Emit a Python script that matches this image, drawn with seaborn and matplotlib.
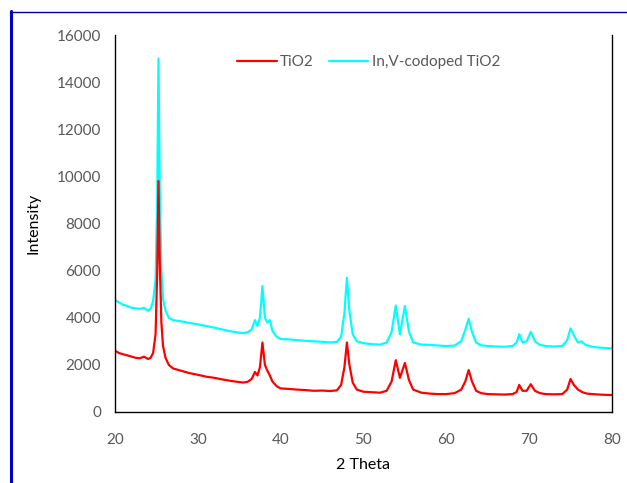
import pandas as pd
import seaborn as sns
import matplotlib.pyplot as plt
from matplotlib.lines import Line2D

# --- data ---
two_theta_tio2 = [20, 20.5, 21, 21.5, 22, 22.5, 23, 23.5, 24, 24.3, 24.6, 24.9, 25.1, 25.25, 25.4, 25.6,
                  25.8, 26.1, 26.5, 27, 27.5, 28, 29, 30, 31, 32, 33, 34, 35, 35.5, 36, 36.5, 36.9,
                  37.2, 37.5, 37.8, 38.1, 38.4, 38.7, 39, 39.5, 40, 41, 42, 43, 44, 45, 46, 46.8,
                  47.3, 47.7, 48.0, 48.3, 48.7, 49.2, 50, 51, 52, 52.8, 53.4, 53.9, 54.4, 55.0,
                  55.5, 56, 57, 58, 59, 60, 61, 61.8, 62.3, 62.7, 63.1, 63.6, 64.2, 65, 66, 67, 68,
                  68.5, 68.8, 69.2, 69.7, 70.2, 70.7, 71.3, 72, 73, 74, 74.6, 75.0, 75.4, 75.9,
                  76.5, 77, 78, 79, 80]
intensity_tio2 = [2600, 2500, 2450, 2400, 2350, 2300, 2280, 2350, 2250, 2300, 2500, 3300, 6000, 9800, 6400, 3800,
                  2800, 2300, 2000, 1850, 1800, 1750, 1650, 1580, 1500, 1450, 1380, 1320, 1270, 1250, 1280, 1400, 1700,
                  1550, 1900, 2950, 2000, 1750, 1550, 1300, 1100, 1000, 980, 950, 930, 900, 910, 890, 920,
                  1150, 1900, 2950, 2000, 1250, 950, 860, 840, 820, 900, 1300, 2200, 1450, 2080,
                  1350, 950, 820, 780, 760, 760, 800, 950, 1300, 1780, 1300, 900, 800, 760, 750, 740, 760,
                  850, 1150, 900, 900, 1180, 900, 800, 760, 750, 760, 950, 1400, 1150, 950,
                  830, 780, 750, 730, 720]

two_theta_codoped = [20, 20.5, 21, 21.5, 22, 22.5, 23, 23.5, 24, 24.3, 24.6, 24.9, 25.1, 25.25, 25.4, 25.6,
                     25.8, 26.1, 26.5, 27, 27.5, 28, 29, 30, 31, 32, 33, 34, 35, 35.5, 36, 36.5, 36.9,
                     37.2, 37.5, 37.8, 38.1, 38.4, 38.7, 39, 39.5, 40, 41, 42, 43, 44, 45, 46, 46.8,
                     47.3, 47.7, 48.0, 48.3, 48.7, 49.2, 50, 51, 52, 52.8, 53.4, 53.9, 54.4, 55.0,
                     55.5, 56, 57, 58, 59, 60, 61, 61.8, 62.3, 62.7, 63.1, 63.6, 64.2, 65, 66, 67, 68,
                     68.5, 68.8, 69.2, 69.7, 70.2, 70.7, 71.3, 72, 73, 74, 74.6, 75.0, 75.4, 75.9,
                     76.3, 76.8, 77.5, 78, 79, 80]
intensity_codoped = [4750, 4650, 4550, 4500, 4420, 4400, 4380, 4420, 4300, 4380, 4700, 5600, 9000, 15000, 9500, 6000,
                     4800, 4300, 4000, 3900, 3870, 3850, 3780, 3720, 3650, 3580, 3500, 3420, 3370, 3350, 3380, 3500, 3900,
                     3650, 4000, 5350, 4000, 3800, 3900, 3450, 3200, 3100, 3080, 3050, 3020, 3000, 2980, 2950, 2980,
                     3200, 4200, 5700, 4300, 3300, 3000, 2920, 2880, 2860, 2950, 3400, 4520, 3300, 4500,
                     3400, 2950, 2860, 2850, 2820, 2800, 2820, 3000, 3500, 3950, 3400, 2950, 2830, 2800, 2780, 2770, 2800,
                     2950, 3300, 2950, 3000, 3400, 3000, 2850, 2800, 2780, 2800, 3050, 3550, 3250, 2950,
                     3000, 2850, 2780, 2750, 2720, 2700]

df_tio2 = pd.DataFrame({"2 Theta": two_theta_tio2, "Intensity": intensity_tio2})
df_codoped = pd.DataFrame({"2 Theta": two_theta_codoped, "Intensity": intensity_codoped})

sns.set_style("white")
plt.rcParams["font.family"] = ["Lato", "DejaVu Sans"]

fig = plt.figure(figsize=(6.27, 4.83), dpi=100)
ax = fig.add_axes([0.1834, 0.147, 0.7926, 0.7805])

# codoped drawn first so red sits on top, like the original
sns.lineplot(data=df_codoped, x="2 Theta", y="Intensity", ax=ax, color="#00FFFF",
             linewidth=1.6, label="In,V-codoped TiO2")
sns.lineplot(data=df_tio2, x="2 Theta", y="Intensity", ax=ax, color="#FF0000",
             linewidth=1.6, label="TiO2")

ax.set_xlim(20, 80)
ax.set_ylim(0, 16000)
ax.set_xticks(range(20, 81, 10))
ax.set_yticks(range(0, 16001, 2000))
ax.tick_params(length=0, labelsize=11, labelcolor="#595959")
ax.tick_params(axis="x", pad=15)
ax.tick_params(axis="y", pad=10)
ax.set_xlabel("2 Theta", fontsize=11.5, color="black", labelpad=8)
ax.set_ylabel("Intensity", fontsize=11.5, color="black", labelpad=12)

for side in ["left", "right", "bottom"]:
    ax.spines[side].set_visible(True)
    ax.spines[side].set_color("black")
    ax.spines[side].set_linewidth(1.0)
ax.spines["top"].set_visible(False)

handles, labels = ax.get_legend_handles_labels()
ax.legend(handles[::-1], labels[::-1], ncol=2, frameon=False, loc="center",
          bbox_to_anchor=(0.51, 0.928), fontsize=11, handlelength=2.6,
          columnspacing=1.0, handletextpad=0.2, labelcolor="#595959")

# blue border on the left and top of the picture
fig.add_artist(Line2D([10.5 / 627, 10.5 / 627], [0, 1 - 11 / 483], color="#0000CC", linewidth=2.2))
fig.add_artist(Line2D([10 / 627, 1], [1 - 11.5 / 483, 1 - 11.5 / 483], color="#000099", linewidth=1.0))

fig.savefig("out.png", dpi=100)
